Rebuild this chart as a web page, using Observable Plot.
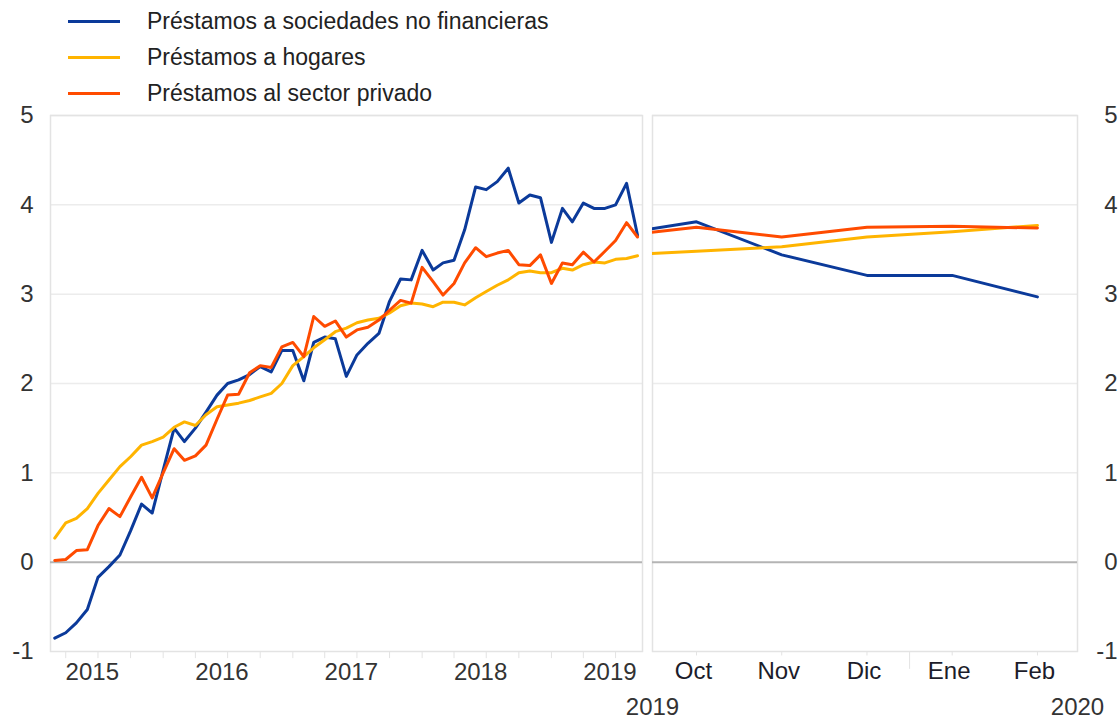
<!DOCTYPE html>
<html>
<head>
<meta charset="utf-8">
<script src="https://cdn.jsdelivr.net/npm/d3@7"></script>
<script src="https://cdn.jsdelivr.net/npm/@observablehq/plot@0.6"></script>
<style>
  body { margin: 0; background: #fff; font-family: "Liberation Sans", Arial, sans-serif; }
  #wrap { position: relative; width: 1119px; height: 719px; overflow: hidden; background: #fff; }
  #legend { position: absolute; left: 0; top: 0; width: 700px; height: 110px; }
  .item { position: absolute; left: 68px; height: 30px; display: flex; align-items: center; }
  .sw { width: 52px; height: 3px; }
  .lab { position: absolute; left: 79px; white-space: nowrap; font-size: 23px; color: #222; }
  #left, #right { position: absolute; top: 100px; }
  #left { left: 0; }
  #right { left: 648px; }
  svg { overflow: visible; }
</style>
</head>
<body>
<div id="wrap">
  <div id="legend"></div>
  <div id="left"></div>
  <div id="right"></div>
</div>
<script>
// ---- Data ----
const seriesNames = ["Préstamos a sociedades no financieras", "Préstamos a hogares", "Préstamos al sector privado"];
const seriesColors = ["#0b3a9a", "#FFB400", "#FF4B00"];

// Monthly observations, March 2015 to September 2019
const firstYear = 2015, firstMonth = 2; // March (0-based)
const nfc = [-0.85, -0.79, -0.68, -0.53, -0.17, -0.05, 0.08, 0.35, 0.65, 0.55,
             1.03, 1.50, 1.35, 1.50, 1.68, 1.87, 2.00, 2.04, 2.10, 2.19,
             2.13, 2.37, 2.37, 2.03, 2.46, 2.52, 2.50, 2.08, 2.32, 2.45,
             2.56, 2.92, 3.17, 3.16, 3.49, 3.27, 3.35, 3.38, 3.72, 4.20,
             4.17, 4.26, 4.41, 4.02, 4.11, 4.08, 3.58, 3.96, 3.81, 4.02,
             3.96, 3.96, 4.00, 4.24, 3.66];
const households = [0.27, 0.44, 0.49, 0.60, 0.77, 0.92, 1.07, 1.18, 1.31, 1.35,
                    1.40, 1.51, 1.57, 1.53, 1.65, 1.74, 1.76, 1.78, 1.81, 1.85,
                    1.89, 2.00, 2.20, 2.30, 2.40, 2.49, 2.58, 2.62, 2.68, 2.71,
                    2.73, 2.79, 2.87, 2.90, 2.89, 2.86, 2.91, 2.91, 2.88, 2.96,
                    3.03, 3.10, 3.16, 3.24, 3.26, 3.24, 3.24, 3.29, 3.27, 3.33,
                    3.36, 3.35, 3.39, 3.40, 3.43];
const privateSector = [0.02, 0.03, 0.13, 0.14, 0.41, 0.60, 0.51, 0.73, 0.95, 0.72,
                       1.00, 1.27, 1.14, 1.19, 1.31, 1.60, 1.87, 1.88, 2.12, 2.20,
                       2.18, 2.41, 2.46, 2.30, 2.75, 2.64, 2.70, 2.52, 2.60, 2.63,
                       2.71, 2.82, 2.93, 2.90, 3.30, 3.14, 2.99, 3.12, 3.35, 3.52,
                       3.42, 3.46, 3.49, 3.33, 3.32, 3.44, 3.12, 3.35, 3.33, 3.47,
                       3.36, 3.48, 3.60, 3.80, 3.64];

// Right panel: September 2019 (clipped) to February 2020
const recentMonths = ["Sep", "Oct", "Nov", "Dic", "Ene", "Feb"];
const recentNfc = [3.66, 3.81, 3.44, 3.21, 3.21, 2.97];
const recentHouseholds = [3.43, 3.48, 3.53, 3.64, 3.70, 3.77];
const recentPrivate = [3.64, 3.75, 3.64, 3.75, 3.76, 3.74];
const recentYears = ["2019", "2020"];

const yearLabels = [2015, 2016, 2017, 2018, 2019];
const yTicks = [-1, 0, 1, 2, 3, 4, 5];

// ---- Build tables ----
const leftSeries = [nfc, households, privateSector];
const leftData = leftSeries.flatMap((vals, s) =>
  vals.map((v, i) => ({date: new Date(firstYear, firstMonth + i, 1), value: v, series: seriesNames[s]})));
const rightSeries = [recentNfc, recentHouseholds, recentPrivate];
const rightData = rightSeries.flatMap((vals, s) =>
  vals.map((v, i) => ({pos: i - 1, month: recentMonths[i], value: v, series: seriesNames[s]})));

// ---- Legend ----
const legend = document.getElementById("legend");
seriesNames.forEach((name, i) => {
  const it = document.createElement("div");
  it.className = "item";
  it.style.top = (6 + i * 36) + "px";
  it.innerHTML = `<div class="sw" style="background:${seriesColors[i]}"></div><span class="lab">${name}</span>`;
  legend.appendChild(it);
});

const font = "'Liberation Sans', Arial, sans-serif";
const color = {domain: seriesNames, range: seriesColors};
const yScale = {domain: [-1, 5], axis: null};
const style = {fontFamily: font, fontSize: "24px", color: "#333", background: "transparent", overflow: "visible"};

// quarterly tick dates
const tickDates = d3.utcMonths(new Date(2015, 3, 1), new Date(2019, 9, 1), 3).map(d => new Date(d.getUTCFullYear(), d.getUTCMonth(), 1));

const left = Plot.plot({
  width: 648, height: 619,
  marginTop: 15, marginBottom: 68, marginLeft: 50, marginRight: 6,
  style,
  x: {type: "time", domain: [new Date(2015, 1, 17), new Date(2019, 8, 15)], axis: null},
  y: yScale,
  color,
  marks: [
    Plot.ruleY(yTicks.filter(d => d > 0), {stroke: "#ececec", strokeWidth: 1.5}),
    Plot.frame({stroke: "#e3e3e3", strokeWidth: 1.5}),
    Plot.ruleY([0], {stroke: "#b4b4b4", strokeWidth: 2}),
    Plot.ruleX(tickDates, {x: d => d, y1: -1, y2: -1.08, stroke: "#e3e3e3"}),
    Plot.line(leftData, {x: "date", y: "value", stroke: "series", z: "series", strokeWidth: 3, strokeLinejoin: "round"}),
    Plot.axisY({anchor: "left", ticks: yTicks, tickSize: 0, tickPadding: 17, tickFormat: d => `${d}`, fill: "#333", label: null}),
    Plot.text(yearLabels, {x: d => new Date(d, 5, 15), frameAnchor: "bottom", lineAnchor: "middle", dy: 21, text: d => `${d}`, fill: "#333"})
  ]
});
document.getElementById("left").appendChild(left);

const right = Plot.plot({
  width: 471, height: 619,
  marginTop: 15, marginBottom: 68, marginLeft: 4, marginRight: 42,
  style,
  x: {type: "linear", domain: [-0.516, 4.47], axis: null},
  y: yScale,
  color,
  marks: [
    Plot.ruleY(yTicks.filter(d => d > 0), {stroke: "#ececec", strokeWidth: 1.5}),
    Plot.frame({stroke: "#e3e3e3", strokeWidth: 1.5}),
    Plot.ruleY([0], {stroke: "#b4b4b4", strokeWidth: 2}),
    Plot.ruleX(recentMonths.slice(1), {x: (d, i) => i, y1: -1, y2: -1.05, stroke: "#e3e3e3"}),
    Plot.ruleX([2.5], {y1: -1, y2: -1.2, stroke: "#e3e3e3"}),
    Plot.line(rightData, {x: "pos", y: "value", stroke: "series", z: "series", strokeWidth: 3, strokeLinejoin: "round", clip: true}),
    Plot.axisY({anchor: "right", ticks: yTicks, tickSize: 0, tickPadding: 40, tickFormat: d => `${d}`, fill: "#333", textAnchor: "end", label: null}),
    Plot.text(recentMonths.slice(1), {x: (d, i) => i, frameAnchor: "bottom", lineAnchor: "middle", dy: 20, dx: -3, fill: "#1c1c2a"}),
    Plot.text(recentYears.slice(0, 1), {frameAnchor: "bottom-left", textAnchor: "middle", lineAnchor: "middle", dy: 56, fill: "#333"}),
    Plot.text(recentYears.slice(1), {frameAnchor: "bottom-right", textAnchor: "middle", lineAnchor: "middle", dy: 56, fill: "#333"})
  ]
});
document.getElementById("right").appendChild(right);
</script>
</body>
</html>
